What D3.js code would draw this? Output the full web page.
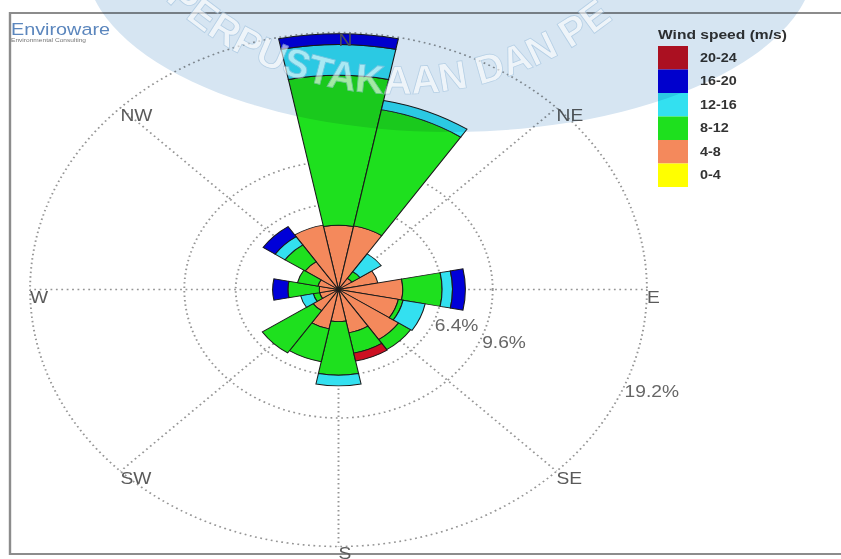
<!DOCTYPE html>
<html>
<head>
<meta charset="utf-8">
<script src="https://cdn.jsdelivr.net/npm/d3@7"></script>
<style>
body { margin: 0; background: #fff; }
svg { display: block; }
</style>
</head>
<body>
<svg width="841" height="559"></svg>
<script>
// wind rose data: frequency (%) per direction, one array per speed class
var directions = ["N","NNE","NE","ENE","E","ESE","SE","SSE","S","SSW","SW","WSW","W","WNW","NW","NNW"];
var speedBins = ["0-4","4-8","8-12","12-16","16-20","20-24"];
var binColors = ["#ffff00","#f4895c","#1ee01e","#33e0f0","#0000d8","#cc1122"];
var freq0_4   = [0,0,0,0,0,0,0,0,0,0,0,0,0,0,0,0];
var freq4_8   = [4.8,4.85,1.0,2.5,4.0,3.8,4.5,3.3,2.4,3.0,1.9,1.2,1.2,1.3,2.5,4.9];
var freq8_12  = [11.2,8.85,0.6,0,2.45,0.3,0.9,1.55,4.0,2.5,3.8,0.4,1.95,1.3,1.5,0];
var freq12_16 = [2.3,0.7,1.6,0,0.65,1.4,0,0,0.8,0,0,0.8,0,0,0.75,0];
var freq16_20 = [0.8,0,0,0,0.8,0,0,0,0,0,0,0,0.95,0,0.9,0];
var freq20_24 = [0,0,0,0,0,0,0,0.6,0,0,0,0,0,0,0,0];
var ringValues = [6.4, 9.6, 19.2];
var ringLabels = ["6.4%","9.6%","19.2%"];
var compassLabels = ["N","NE","E","SE","S","SW","W","NW"];
var legendTitle = "Wind speed (m/s)";

var series = [freq0_4, freq4_8, freq8_12, freq12_16, freq16_20, freq20_24];
var rows = directions.map(function(d, i) {
    var row = {dir: d};
    speedBins.forEach(function(b, j) { row[b] = series[j][i]; });
    return row;
});

var svg = d3.select("svg");

// the original picture is stretched horizontally, so draw in a squeezed space
var stretch = 1.2;
var page = svg.append("g").attr("transform", "scale(" + stretch + ",1)");

var cx = 338.5 / stretch, cy = 289.5;
var r = d3.scaleLinear().domain([0, 19.2]).range([0, 257]);
var angle = d3.scaleBand().domain(directions)
    .range([-Math.PI / 16, 2 * Math.PI - Math.PI / 16]);

// frame
page.append("rect")
    .attr("x", 10 / stretch).attr("y", 13)
    .attr("width", 860).attr("height", 541)
    .attr("fill", "none").attr("stroke", "#8c8c8c").attr("stroke-width", 2);

page.append("text")
    .attr("x", 11 / stretch).attr("y", 35)
    .text("Enviroware")
    .attr("font-family", "Arial").attr("font-size", 16.5)
    .attr("fill", "#5b86bd");
page.append("text")
    .attr("x", 11 / stretch).attr("y", 42)
    .text("Environmental Consulting")
    .attr("font-family", "Arial").attr("font-size", 5.5)
    .attr("fill", "#777");

var rose = page.append("g").attr("transform", "translate(" + cx + "," + cy + ")");

// grid rings and spokes
rose.selectAll("circle.ring")
    .data(ringValues).enter().append("circle")
    .attr("class", "ring")
    .attr("r", function(d) { return r(d); })
    .attr("fill", "none").attr("stroke", "#959595")
    .attr("stroke-width", 1.6).attr("stroke-dasharray", "1.5,3");

var rMax = r(19.2);
rose.selectAll("line.spoke")
    .data(compassLabels).enter().append("line")
    .attr("class", "spoke")
    .attr("x1", 0).attr("y1", 0)
    .attr("x2", function(d, i) { return rMax * Math.sin(i * Math.PI / 4); })
    .attr("y2", function(d, i) { return -rMax * Math.cos(i * Math.PI / 4); })
    .attr("stroke", "#959595").attr("stroke-width", 1.6).attr("stroke-dasharray", "1.5,3");

// stacked wedges
var stacked = d3.stack().keys(speedBins)(rows);
var arc = d3.arc()
    .innerRadius(function(d) { return r(d[0]); })
    .outerRadius(function(d) { return r(d[1]); })
    .startAngle(function(d) { return angle(d.data.dir); })
    .endAngle(function(d) { return angle(d.data.dir) + angle.bandwidth(); });

rose.selectAll("g.layer")
    .data(stacked).enter().append("g")
    .attr("class", "layer")
    .attr("fill", function(d, i) { return binColors[i]; })
    .selectAll("path")
    .data(function(d) { return d.filter(function(p) { return p[1] - p[0] > 0; }); })
    .enter().append("path")
    .attr("d", arc)
    .attr("stroke", "#1a1a1a").attr("stroke-width", 0.9);

// compass labels, top-left corner on the outer ring
rose.selectAll("text.compass")
    .data(compassLabels).enter().append("text")
    .attr("class", "compass")
    .attr("x", function(d, i) { return rMax * Math.sin(i * Math.PI / 4); })
    .attr("y", function(d, i) { return -rMax * Math.cos(i * Math.PI / 4) + 13; })
    .text(function(d) { return d; })
    .attr("font-family", "Arial").attr("font-size", 16)
    .attr("fill", "#5a5a5a");

// ring labels along ESE
var labAngle = 5 * Math.PI / 8;
rose.selectAll("text.ringlab")
    .data(ringValues).enter().append("text")
    .attr("class", "ringlab")
    .attr("x", function(d) { return r(d) * Math.sin(labAngle) + 1; })
    .attr("y", function(d) { return -r(d) * Math.cos(labAngle) + 9; })
    .text(function(d, i) { return ringLabels[i]; })
    .attr("font-family", "Arial").attr("font-size", 16)
    .attr("fill", "#666");

// legend
var legend = page.append("g").attr("transform", "translate(" + (658 / stretch) + ",0)");
legend.append("text")
    .attr("x", 0).attr("y", 39)
    .text(legendTitle)
    .attr("font-family", "Arial").attr("font-size", 13).attr("font-weight", "bold")
    .attr("fill", "#333");

var legendOrder = speedBins.slice().reverse();
var ly = d3.scaleBand().domain(legendOrder).range([46, 187]);
legend.selectAll("rect.key")
    .data(legendOrder).enter().append("rect")
    .attr("class", "key")
    .attr("x", 0).attr("y", function(d) { return ly(d); })
    .attr("width", 30 / stretch).attr("height", ly.bandwidth())
    .attr("fill", function(d) { return binColors[speedBins.indexOf(d)]; });
legend.selectAll("text.key")
    .data(legendOrder).enter().append("text")
    .attr("class", "key")
    .attr("x", 42 / stretch).attr("y", function(d) { return ly(d) + ly.bandwidth() / 2 + 4; })
    .text(function(d) { return d; })
    .attr("font-family", "Arial").attr("font-size", 12).attr("font-weight", "bold")
    .attr("fill", "#333");

// scanned library watermark on top
var wm = svg.append("g");
wm.append("ellipse")
    .attr("cx", 450).attr("cy", -40).attr("rx", 365).attr("ry", 172)
    .attr("fill", "#d6e5f2")
    .style("mix-blend-mode", "multiply");
wm.append("path")
    .attr("id", "wmarc")
    .attr("d", "M 139,-28 A 340 340 0 0 0 661,-28")
    .attr("fill", "none");
wm.append("text")
    .attr("font-family", "Arial").attr("font-size", 40).attr("font-weight", "bold")
    .attr("fill", "#ffffff").attr("opacity", 0.6)
    .attr("stroke", "#9fc0dc").attr("stroke-width", 0.8)
    .append("textPath")
    .attr("href", "#wmarc")
    .attr("startOffset", 38)
    .attr("textLength", 490)
    .text("PERPUSTAKAAN DAN PE");
</script>
</body>
</html>
